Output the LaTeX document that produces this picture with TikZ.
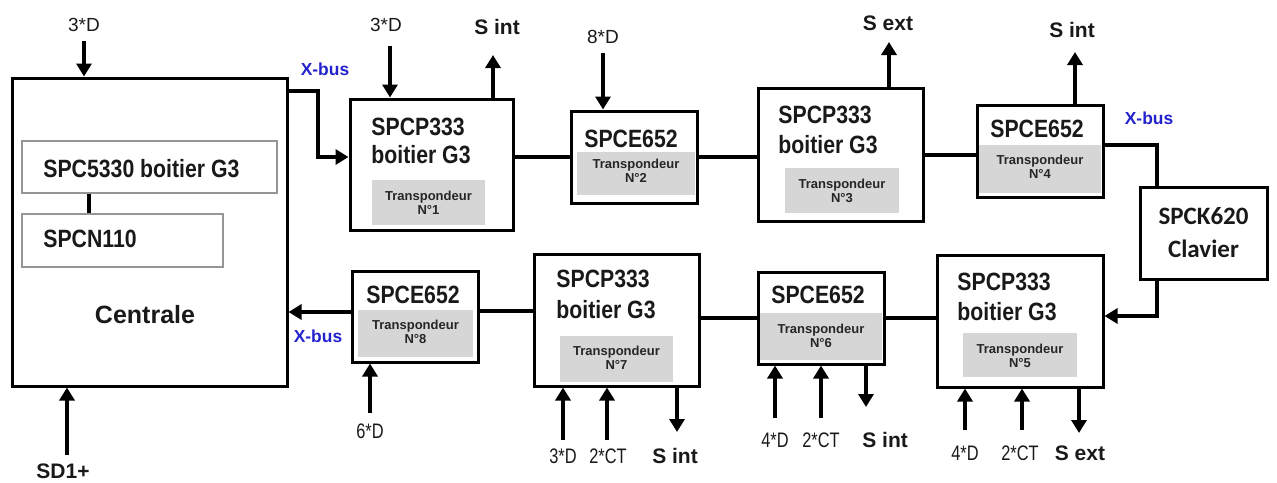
\documentclass[tikz,border=0pt]{standalone}
\usepackage{fontspec}
\setmainfont{Liberation Sans}
\newfontfamily\narrowfont[FakeStretch=0.85]{Liberation Sans}
\newfontfamily\narrowerfont[FakeStretch=0.78]{Liberation Sans}
\newfontfamily\calibrifont{Carlito}
\usetikzlibrary{arrows.meta,calc}
\definecolor{tgray}{RGB}{214,214,214}
\definecolor{xblue}{RGB}{35,35,205}
\definecolor{igray}{RGB}{150,150,150}
\definecolor{ink}{RGB}{25,25,25}
\tikzset{
  box/.style={draw, line width=1.5pt, inner sep=0pt},
  tbox/.style={fill=tgray, inner sep=0pt},
  ibox/.style={draw=igray, line width=0.8pt, inner sep=0pt},
  big/.style={font=\narrowfont\bfseries\fontsize{12.5}{14}\selectfont, inner sep=0pt, text=ink},
  cent/.style={font=\bfseries\fontsize{12.5}{14}\selectfont, inner sep=0pt, text=ink},
  trans/.style={font=\bfseries\fontsize{6.5}{7}\selectfont, align=center, inner sep=0pt, text=black!85},
  lab/.style={font=\fontsize{9.5}{11}\selectfont, inner sep=0pt, anchor=base, text=ink},
  blab/.style={font=\narrowerfont\fontsize{10.5}{12}\selectfont, inner sep=0pt, anchor=base, text=ink},
  sig/.style={font=\bfseries\fontsize{10.5}{12}\selectfont, inner sep=0pt, anchor=base, text=ink},
  xbus/.style={font=\bfseries\fontsize{8.7}{10}\selectfont, text=xblue, inner sep=0pt, anchor=base},
  wire/.style={line width=2pt},
  arr/.style={line width=2.2pt, -{Triangle[width=7.5pt,length=6.5pt]}},
}
\begin{document}
\begin{tikzpicture}[x=0.5pt,y=-0.5pt]
\useasboundingbox (0,0) rectangle (1277,482);

% ---------- Centrale ----------
\node[box, minimum width=275*0.5pt, minimum height=308*0.5pt] (C) at (149.5,232) {};
\node[ibox, minimum width=255*0.5pt, minimum height=52*0.5pt] (I1) at (149.5,167) {};
\node[ibox, minimum width=201*0.5pt, minimum height=53*0.5pt] (I2) at (122.5,240.5) {};
\node[big, anchor=base west] (tI1) at (43,177) {SPC5330 boitier G3};
\node[big, anchor=base west] (tI2) at (43,247) {SPCN110};
\draw[wire] ($(I1.south west)+(68,0)$) -- ($(I2.north west)+(68,0)$);
\node[cent, anchor=base] (tC) at (145,323) {Centrale};

% ---------- gray transponder fields ----------
\node[tbox, minimum width=113*0.5pt, minimum height=45*0.5pt] (G1) at (428.5,202.5) {};
\node[tbox, minimum width=118*0.5pt, minimum height=43*0.5pt] (G2) at (636,173.5) {};
\node[tbox, minimum width=114*0.5pt, minimum height=45*0.5pt] (G3) at (842,190.5) {};
\node[tbox, minimum width=122*0.5pt, minimum height=48*0.5pt] (G4) at (1040,169) {};
\node[tbox, minimum width=114*0.5pt, minimum height=44*0.5pt] (G5) at (1020,355) {};
\node[tbox, minimum width=122*0.5pt, minimum height=47*0.5pt] (G6) at (821,336.5) {};
\node[tbox, minimum width=113*0.5pt, minimum height=46*0.5pt] (G7) at (616.5,359) {};
\node[tbox, minimum width=115*0.5pt, minimum height=47*0.5pt] (G8) at (415.5,333.5) {};

% ---------- module boxes ----------
\node[box, minimum width=163*0.5pt, minimum height=131*0.5pt] (N1) at (431.5,164.5) {};
\node[box, minimum width=126*0.5pt, minimum height=92*0.5pt] (N2) at (634,157) {};
\node[box, minimum width=165*0.5pt, minimum height=133*0.5pt] (N3) at (840.5,154.5) {};
\node[box, minimum width=126*0.5pt, minimum height=92*0.5pt] (N4) at (1040,151) {};
\node[box, minimum width=127*0.5pt, minimum height=92*0.5pt, align=center, text=ink,
      font=\calibrifont\bfseries\fontsize{12.5}{16.5}\selectfont] (K) at (1203.5,233) {SPCK620\\Clavier};
\node[box, minimum width=166*0.5pt, minimum height=132*0.5pt] (N5) at (1020,321) {};
\node[box, minimum width=126*0.5pt, minimum height=92*0.5pt] (N6) at (821,318) {};
\node[box, minimum width=165*0.5pt, minimum height=132*0.5pt] (N7) at (616.5,320) {};
\node[box, minimum width=126*0.5pt, minimum height=91*0.5pt] (N8) at (415,316.5) {};

% ---------- box titles ----------
\node[big, anchor=base west] (t1a) at (371,135) {SPCP333};
\node[big, anchor=base west] (t1b) at (371,163) {boitier G3};
\node[big, anchor=base] (t2) at (631,147) {SPCE652};
\node[big, anchor=base west] (t3a) at (778,123) {SPCP333};
\node[big, anchor=base west] (t3b) at (778,153) {boitier G3};
\node[big, anchor=base] (t4) at (1037,137) {SPCE652};
\node[big, anchor=base west] (t5a) at (957,290) {SPCP333};
\node[big, anchor=base west] (t5b) at (957,320) {boitier G3};
\node[big, anchor=base] (t6) at (818,303) {SPCE652};
\node[big, anchor=base west] (t7a) at (556,287) {SPCP333};
\node[big, anchor=base west] (t7b) at (556,318) {boitier G3};
\node[big, anchor=base] (t8) at (413,303) {SPCE652};

% ---------- transponder texts ----------
\node[trans] (r1) at (428.5,202.5) {Transpondeur\\N°1};
\node[trans] (r2) at (636,171) {Transpondeur\\N°2};
\node[trans] (r3) at (842,190.5) {Transpondeur\\N°3};
\node[trans] (r4) at (1040,167) {Transpondeur\\N°4};
\node[trans] (r5) at (1020,356) {Transpondeur\\N°5};
\node[trans] (r6) at (821,335.5) {Transpondeur\\N°6};
\node[trans] (r7) at (616.5,357.5) {Transpondeur\\N°7};
\node[trans] (r8) at (415.5,331.5) {Transpondeur\\N°8};

% ---------- coordinates for free ends ----------
\coordinate (c3) at (84,41);
\coordinate (sd) at (67,455);
\coordinate (xb1) at (318,91);
\coordinate (xb2) at (318,157);
\coordinate (n1d) at (390,46);
\coordinate (n1s) at (493,55);
\coordinate (n2d) at (603,53);
\coordinate (n3s) at (889,42);
\coordinate (n4s) at (1075,52);
\coordinate (kb1) at (1157,145);
\coordinate (kb2) at (1157,316);
\coordinate (n5d) at (965,430);
\coordinate (n5c) at (1022,430);
\coordinate (n5s) at (1079,433);
\coordinate (n6d) at (775,418);
\coordinate (n6c) at (821,418);
\coordinate (n6s) at (866,407);
\coordinate (n7d) at (563,440);
\coordinate (n7c) at (607,440);
\coordinate (n7s) at (677,432);
\coordinate (b78) at (500,311);
\coordinate (b8c) at (320,312);
\coordinate (n8d) at (370,413);

% ---------- bus connections ----------
\draw[arr] (xb1 -| C.east) -- (xb1) -- (xb2) -- (xb2 -| N1.west);
\draw[wire] (N1.east |- N2.west) -- (N2.west);
\draw[wire] (N2.east) -- (N2.east -| N3.west);
\draw[wire] (N3.east) -- (N3.east -| N4.west);
\draw[wire] (kb1 -| N4.east) -- (kb1) -- (kb1 |- K.north);
\draw[arr] (kb2 |- K.south) -- (kb2) -- (kb2 -| N5.east);
\draw[wire] (N5.west |- N6.east) -- (N6.east);
\draw[wire] (N6.west) -- (N6.west -| N7.east);
\draw[wire] (b78 -| N7.west) -- (b78 -| N8.east);
\draw[arr] (b8c -| N8.west) -- (b8c -| C.east);

% ---------- inputs / outputs ----------
\draw[arr] (c3) -- (c3 |- C.north);
\draw[arr] (sd) -- (sd |- C.south);
\draw[arr] (n1d) -- (n1d |- N1.north);
\draw[arr] (n1s |- N1.north) -- (n1s);
\draw[arr] (n2d) -- (n2d |- N2.north);
\draw[arr] (n3s |- N3.north) -- (n3s);
\draw[arr] (n4s |- N4.north) -- (n4s);
\draw[arr] (n5d) -- (n5d |- N5.south);
\draw[arr] (n5c) -- (n5c |- N5.south);
\draw[arr] (n5s |- N5.south) -- (n5s);
\draw[arr] (n6d) -- (n6d |- N6.south);
\draw[arr] (n6c) -- (n6c |- N6.south);
\draw[arr] (n6s |- N6.south) -- (n6s);
\draw[arr] (n7d) -- (n7d |- N7.south);
\draw[arr] (n7c) -- (n7c |- N7.south);
\draw[arr] (n7s |- N7.south) -- (n7s);
\draw[arr] (n8d) -- (n8d |- N8.south);

% ---------- labels ----------
\node[lab] (l0) at (84,32) {3*D};
\node[lab] (l1d) at (386,32) {3*D};
\node[sig] (l1s) at (497,34) {S int};
\node[lab] (l2d) at (603,43) {8*D};
\node[sig] (l3s) at (888,30) {S ext};
\node[sig] (l4s) at (1072,37) {S int};
\node[xbus] (x1) at (325,75) {X-bus};
\node[xbus] (x2) at (1149,124) {X-bus};
\node[xbus] (x3) at (318,342) {X-bus};
\node[blab] (l5d) at (965,460) {4*D};
\node[blab] (l5c) at (1020,460) {2*CT};
\node[sig] (l5s) at (1080,460) {S ext};
\node[blab] (l6d) at (775,447) {4*D};
\node[blab] (l6c) at (821,447) {2*CT};
\node[sig, anchor=base west] (l6s) at (862,447) {S int};
\node[blab] (l7d) at (563,463) {3*D};
\node[blab] (l7c) at (608,463) {2*CT};
\node[sig] (l7s) at (675,463) {S int};
\node[blab] (l8d) at (370,438) {6*D};
\node[sig] (lsd) at (63,478) {SD1+};
\end{tikzpicture}
\end{document}
